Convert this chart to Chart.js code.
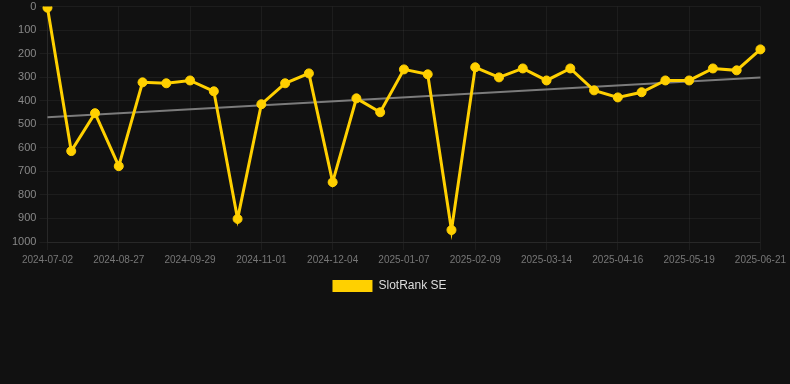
<!DOCTYPE html>
<html>
<head>
<meta charset="utf-8">
<script src="https://cdn.jsdelivr.net/npm/chart.js@4/dist/chart.umd.min.js"></script>
<style>
  html, body { margin: 0; padding: 0; background: #111111; }
  .ChartBox { position: relative; width: 790px; height: 302px; }
</style>
</head>
<body>
<div class="ChartBox"><canvas id="chart"></canvas></div>
<script>
const dates = [
  '2024-07-02', '2024-07-21', '2024-08-08', '2024-08-27', '2024-09-07', '2024-09-18',
  '2024-09-29', '2024-10-10', '2024-10-21', '2024-11-01', '2024-11-12', '2024-11-23',
  '2024-12-04', '2024-12-15', '2024-12-26', '2025-01-07', '2025-01-18', '2025-01-29',
  '2025-02-09', '2025-02-20', '2025-03-03', '2025-03-14', '2025-03-25', '2025-04-05',
  '2025-04-16', '2025-04-27', '2025-05-08', '2025-05-19', '2025-05-30', '2025-06-10',
  '2025-06-21'
];
const slotRank = [
  5, 614, 453, 678, 322, 326, 314, 360, 902, 415, 326, 284,
  746, 390, 449, 267, 288, 949, 258, 301, 263, 314, 263, 356,
  386, 364, 314, 314, 263, 271, 182
];
// trend line: only the two end points, drawn straight across
const trendStart = 470;
const trendEnd = 301;
const yTicks = [0, 100, 200, 300, 400, 500, 600, 700, 800, 900, 1000];

const gold = 'rgb(255, 208, 0)';
const font = 'Arial, "Liberation Sans", sans-serif';
const trend = dates.map((d, i) => i === 0 ? trendStart : (i === dates.length - 1 ? trendEnd : null));

new Chart(document.getElementById('chart'), {
  type: 'line',
  data: {
    labels: dates,
    datasets: [
      {
        label: 'SlotRank SE',
        data: slotRank,
        borderColor: gold,
        backgroundColor: gold,
        borderWidth: 3,
        pointRadius: 4.5,
        pointHoverRadius: 4.5,
        pointBorderWidth: 1,
        pointBackgroundColor: gold,
        pointBorderColor: gold,
        tension: 0,
        order: 1,
      },
      {
        label: 'Trend',
        data: trend,
        spanGaps: true,
        borderColor: 'rgba(150, 150, 150, 0.8)',
        borderWidth: 2,
        pointRadius: 0,
        fill: false,
        order: 2,
      },
    ],
  },
  options: {
    responsive: true,
    maintainAspectRatio: false,
    animation: false,
    layout: { padding: { left: 9, right: 20 } },
    plugins: {
      legend: {
        position: 'bottom',
        labels: {
          color: '#dddddd',
          font: { family: font, size: 12 },
          boxWidth: 40,
          boxHeight: 12,
          filter: item => item.text !== 'Trend',
          generateLabels: chart => Chart.defaults.plugins.legend.labels.generateLabels(chart)
            .map(l => Object.assign(l, { lineWidth: 0 })),
        },
      },
      tooltip: { enabled: false },
    },
    scales: {
      x: {
        grid: { color: 'rgba(255, 255, 255, 0.05)' },
        border: { color: 'rgba(255, 255, 255, 0.05)' },
        ticks: {
          color: '#777777',
          font: { family: font, size: 10 },
          padding: 4,
          maxRotation: 0,
          autoSkip: true,
          maxTicksLimit: 11,
        },
      },
      y: {
        reverse: true,
        min: 0,
        max: 1000,
        afterBuildTicks: axis => { axis.ticks = yTicks.map(v => ({ value: v })); },
        grid: { color: 'rgba(255, 255, 255, 0.05)' },
        border: { color: 'rgba(255, 255, 255, 0.05)' },
        ticks: {
          color: '#888888',
          font: { family: font, size: 11, lineHeight: 0.64 },
          callback: v => String(v),
        },
      },
    },
  },
});
</script>
</body>
</html>
